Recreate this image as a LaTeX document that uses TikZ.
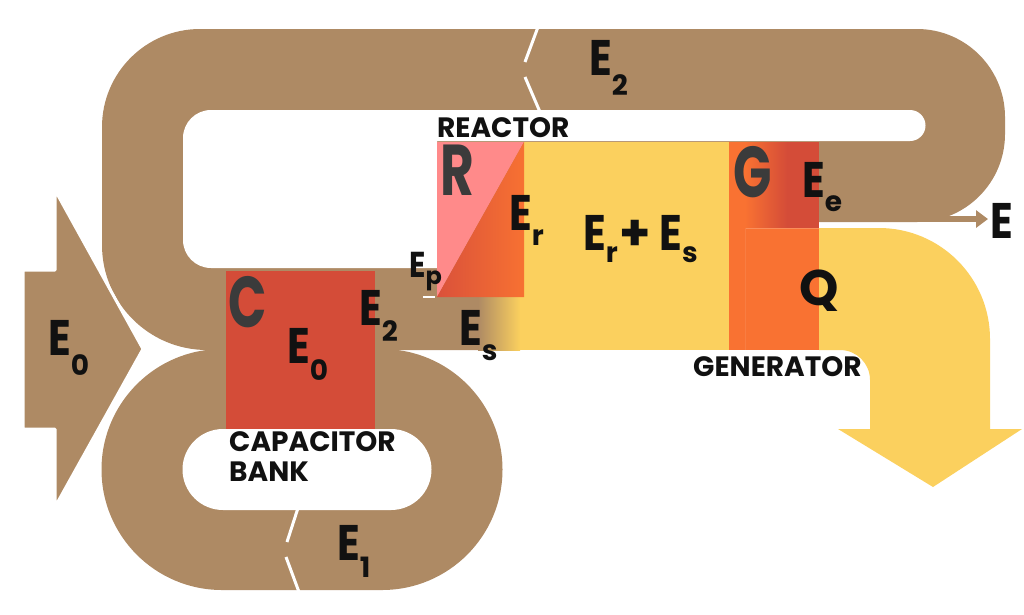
\documentclass[tikz,border=0pt]{standalone}
\usepackage{fontspec}
\setmainfont{Poppins}
\usetikzlibrary{arrows.meta}
\definecolor{flowbrown}{HTML}{AE8A64}
\definecolor{flowyellow}{HTML}{FBD05E}
\definecolor{genorange}{HTML}{F97232}
\definecolor{capred}{HTML}{D44C38}
\definecolor{reactpink}{HTML}{FF8A8A}
\definecolor{reactred}{HTML}{DA513A}
\definecolor{reactorange}{HTML}{F77132}
\definecolor{glyphgray}{HTML}{3B3B3B}
\definecolor{ink}{HTML}{111111}
% narrow capital letter
\newcommand\Nar[1]{\scalebox{0.84}[1]{#1}}
% letter with a lowered subscript: #1 letter, #2 drop, #3 subscript
\newcommand\Sub[3]{\Nar{#1}\raisebox{-#2}{\fontsize{28}{28}\selectfont #3}}
\begin{document}
\begin{tikzpicture}[x=1pt,y=1pt,
  lbl/.style={anchor=base west, inner sep=0pt, text=ink},
  big/.style={lbl, font=\fontsize{50}{50}\selectfont\bfseries},
  caption/.style={lbl, font=\fontsize{28}{30}\selectfont\bfseries},
  glyph/.style={lbl, text=glyphgray, font=\fontsize{72}{72}\selectfont\bfseries},
  cut/.style={white, line width=3pt}]
\useasboundingbox (0,0) rectangle (1024,-614);

% upper loop: capacitor -> reactor -> generator and back
\fill[flowbrown] (500,-222) -- (500,-350) -- (207,-350)
  arc[start angle=270, end angle=180, radius=105] -- (102,-127)
  arc[start angle=180, end angle=90, radius=98] -- (917,-29)
  arc[start angle=90, end angle=0, radius=88] -- (1005,-134)
  arc[start angle=0, end angle=-90, radius=88] -- cycle;
\fill[white] (437,-110) -- (211,-110)
  arc[start angle=90, end angle=180, radius=28] -- (183,-240)
  arc[start angle=180, end angle=270, radius=28] -- (437,-268) -- cycle;
\fill[white] (300,-110) -- (910,-110)
  arc[start angle=90, end angle=-90, radius=15.5] -- (300,-141) -- cycle;

% lower loop through the capacitor bank
\fill[flowbrown] (222,-349) -- (382,-349)
  arc[start angle=90, end angle=-90, radius=120.5] -- (222,-590)
  arc[start angle=270, end angle=90, radius=120.5] -- cycle;
\fill[white] (223,-429) -- (391,-429)
  arc[start angle=90, end angle=-90, radius=40.5] -- (223,-510)
  arc[start angle=270, end angle=90, radius=40.5] -- cycle;

% capacitor block
\fill[capred] (226,-271) rectangle (375,-429);

% heat flow Q leaving the generator
\fill[flowyellow] (819,-228) -- (879,-228)
  arc[start angle=90, end angle=0, radius=111] -- (990,-429) -- (1022,-429)
  -- (933,-487) -- (838,-429) -- (870,-429) -- (870,-380)
  arc[start angle=0, end angle=90, radius=30] -- (819,-350) -- cycle;

% main flow E_r + E_s
\fill[flowyellow] (524,-142) rectangle (729,-350);
\fill[flowbrown] (437,-297) rectangle (478,-350);
\shade[left color=flowbrown, right color=flowyellow] (478,-297) rectangle (520,-350);
\fill[flowyellow] (520,-297) rectangle (524,-350);

% reactor
\fill[reactpink] (437,-142) -- (524,-142) -- (437,-297) -- cycle;
\shade[left color=reactred, right color=reactorange] (437,-297) -- (524,-142) -- (524,-297) -- cycle;

% generator
\fill[genorange] (729,-142) rectangle (819,-350);
\shade[left color=genorange, right color=capred] (745,-142) rectangle (787,-228);
\fill[capred] (787,-142) rectangle (819,-228);
\draw[genorange!80!white, line width=0.6pt] (745,-228) -- (819,-228);
\draw[genorange!92!white, line width=0.5pt] (745,-228) -- (745,-350);

% input arrow E_0
\fill[flowbrown, draw=white, line width=3pt, line join=round]
  (23,-270) -- (55,-270) -- (55,-190) -- (143,-349) -- (55,-507)
  -- (55,-429) -- (23,-429) -- cycle;

% direction marks cut into the loops
\draw[cut] (538,-27) -- (525,-62);
\draw[cut] (525,-77) -- (540,-112);
\draw[cut] (298,-508) -- (287,-542);
\draw[cut] (286,-557) -- (299,-592);
\draw[white, line width=1.5pt] (423,-297) -- (435,-297);

% output E
\node[big] (eout) at (990,-238) {\Nar{E}};
\coordinate (estart) at (905,-219);
\draw[flowbrown, line width=6pt, -{Triangle[length=12pt, width=17pt]}]
  (estart) -- ([xshift=-2pt]eout.west |- estart);

% block glyphs
\node[glyph] (rglyph) at (440,-195) {\scalebox{0.72}[1]{R}};
\node[glyph] (gglyph) at (733,-197) {\scalebox{0.7}[1]{G}};
\node[glyph] (cglyph) at (228,-327) {\scalebox{0.7}[1]{C}};

% captions
\node[caption] (reactor) at (437,-137) {REACTOR};
\node[caption] (generator) at (693,-376) {GENERATOR};
\node[caption] (capacitor) at (229,-451) {CAPACITOR};
\node[caption] (bank) at (229,-481) {BANK};

% energy labels
\node[big] (e2top) at (589,-75) {\Sub{E}{20pt}{2}};
\node[big] (e0in) at (48,-355) {\Sub{E}{20pt}{0}};
\node[big] (e0cap) at (287,-363) {\Sub{E}{17pt}{0}};
\node[big] (e2cap) at (359,-325) {\Sub{E}{16pt}{2}};
\node[big] (e1) at (337,-560) {\Sub{E}{17pt}{1}};
\node[big] (er) at (509,-230) {\Sub{E}{15pt}{r}};
\node[big] (es) at (459,-345) {\Sub{E}{15pt}{s}};
\node[big] (ersum) at (583,-250) {\Sub{E}{12pt}{r}\kern2pt+\kern8pt\Sub{E}{12pt}{s}};
\node[big] (ee) at (802,-197) {\Sub{E}{14pt}{e}};
\node[big] (q) at (799,-305) {Q};
\node[lbl, font=\fontsize{36}{36}\selectfont\bfseries] (ep) at (409,-277)
  {\Nar{E}\raisebox{-7pt}{\fontsize{24}{24}\selectfont p}};
\end{tikzpicture}
\end{document}
